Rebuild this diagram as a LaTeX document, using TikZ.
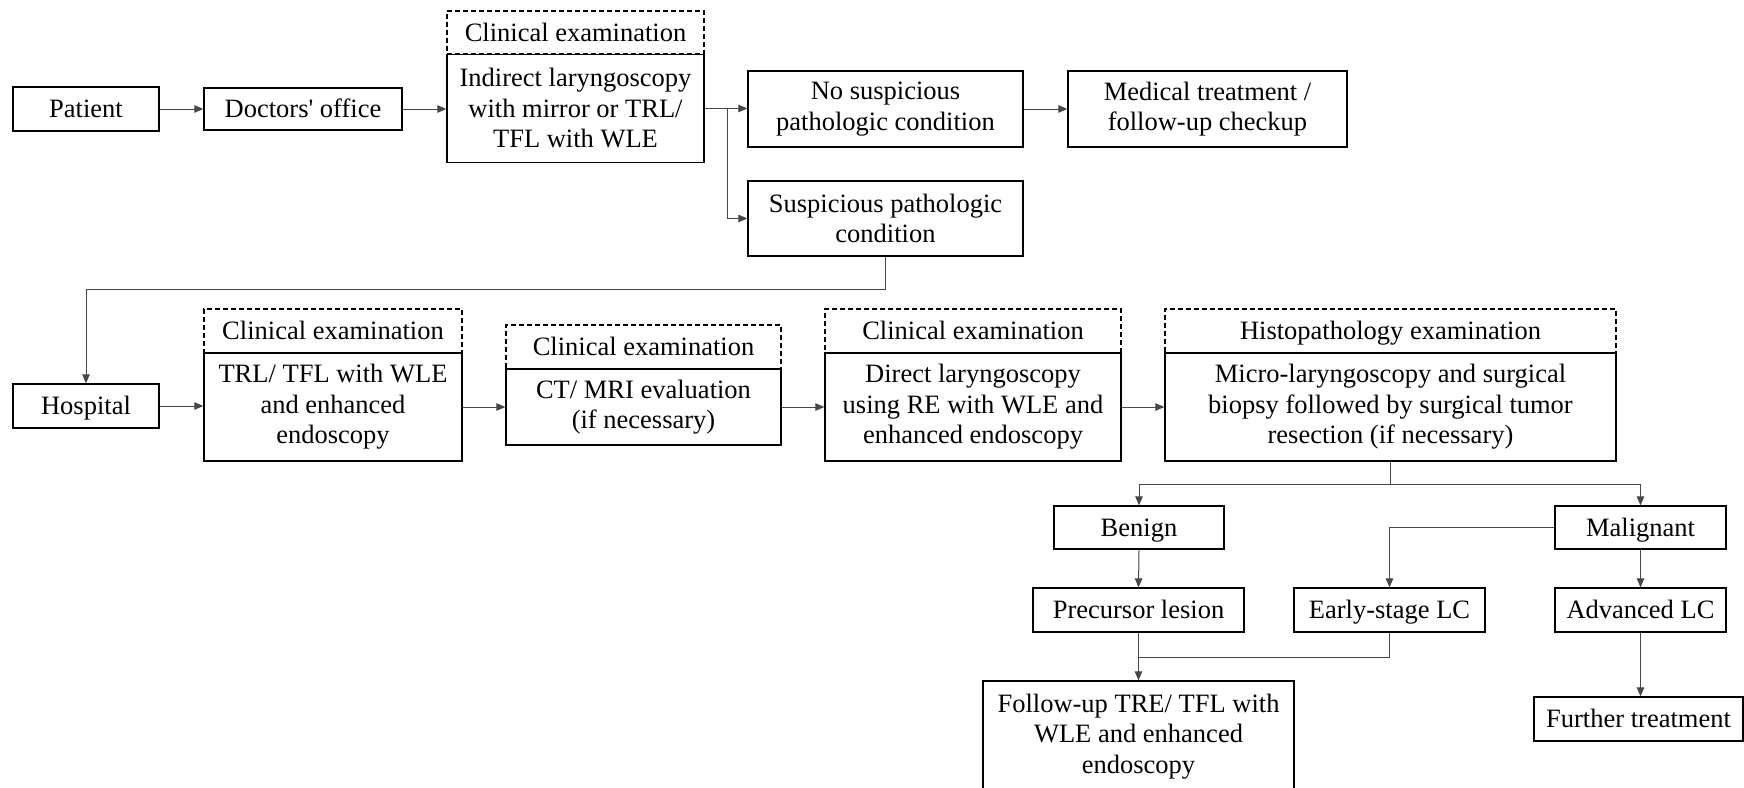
\documentclass[tikz,border=0pt]{standalone}
\usepackage{fontspec}
\newfontfamily\boxfont{Liberation Serif}
\usetikzlibrary{arrows.meta}
\tikzset{
  box/.style={draw=black, line width=1.3pt, rectangle, inner sep=0pt, align=center,
    font=\boxfont\fontsize{26.5pt}{30.5pt}\selectfont},
  one/.style={text height=19pt, text depth=1.5pt},
  dbox/.style={box, one, dash pattern=on 5pt off 3pt},
  conn/.style={draw=black!72, line width=1pt},
  arr/.style={conn, -{Triangle[length=9pt,width=7.5pt]}}
}
\begin{document}
\begin{tikzpicture}[x=1pt,y=-1pt]
\clip (0,0) rectangle (1744,787);
\fill[white] (0,0) rectangle (1744,787);
% row 1
\node[box, one, minimum width=146pt, minimum height=44pt] (patient) at (86,109) {Patient};
\node[box, one, minimum width=198pt, minimum height=42pt] (doctors) at (303,109) {Doctors' office};
\node[dbox, minimum width=257pt, minimum height=43pt] (clin1) at (575.5,32.5) {Clinical examination};
\node[box, minimum width=257pt, minimum height=108pt] (indirect) at (575.5,108.5) {Indirect laryngoscopy\\with mirror or TRL/\\TFL with WLE};
\node[box, minimum width=275pt, minimum height=76pt] (nosusp) at (885.5,109) {No suspicious\\pathologic condition};
\node[box, minimum width=279pt, minimum height=76pt] (medical) at (1207.5,109) {Medical treatment /\\follow-up checkup};
\node[box, minimum width=275pt, minimum height=75pt] (susp) at (885.5,218.5) {Suspicious pathologic\\condition};
% row 2
\node[box, one, minimum width=146pt, minimum height=44pt] (hospital) at (86,406) {Hospital};
\node[dbox, minimum width=258pt, minimum height=44pt] (clin2) at (333,331) {Clinical examination};
\node[box, minimum width=258pt, minimum height=108pt] (trl) at (333,407) {TRL/ TFL with WLE\\and enhanced\\endoscopy};
\node[dbox, minimum width=275pt, minimum height=44pt] (clin3) at (643.5,347) {Clinical examination};
\node[box, minimum width=275pt, minimum height=76pt] (ct) at (643.5,407) {CT/ MRI evaluation\\(if necessary)};
\node[dbox, minimum width=296pt, minimum height=44pt] (clin4) at (973,331) {Clinical examination};
\node[box, minimum width=296pt, minimum height=108pt] (direct) at (973,407) {Direct laryngoscopy\\using RE with WLE and\\enhanced endoscopy};
\node[dbox, minimum width=451pt, minimum height=44pt] (histo) at (1390.5,331) {Histopathology examination};
\node[box, minimum width=451pt, minimum height=108pt] (micro) at (1390.5,407) {Micro-laryngoscopy and surgical\\biopsy followed by surgical tumor\\resection (if necessary)};
% row 3
\node[box, one, minimum width=170pt, minimum height=43pt] (benign) at (1139,527.5) {Benign};
\node[box, one, minimum width=171pt, minimum height=43pt] (malignant) at (1640.5,527.5) {Malignant};
\node[box, one, minimum width=211pt, minimum height=44pt] (precursor) at (1138.5,610) {Precursor lesion};
\node[box, one, minimum width=191pt, minimum height=44pt] (early) at (1389.5,610) {Early-stage LC};
\node[box, one, minimum width=171pt, minimum height=44pt] (advanced) at (1640.5,610) {Advanced LC};
\node[box, minimum width=311pt, minimum height=111pt] (follow) at (1138.5,736.5) {Follow-up TRE/ TFL with\\WLE and enhanced\\endoscopy};
\node[box, one, minimum width=209pt, minimum height=44pt] (further) at (1638.5,719) {Further treatment};
% junction coordinates
\coordinate (br) at (727,108);
\coordinate (j1) at (0,289);
\coordinate (j2) at (0,484);
\coordinate (j3) at (0,657);
% connectors
\draw[arr] (patient.east) -- (doctors.west);
\draw[arr] (doctors.east) -- (doctors.east -| indirect.west);
\draw[arr] (indirect.east) -- (indirect.east -| nosusp.west);
\draw[arr] (br) |- (susp.west);
\draw[arr] (nosusp.east) -- (medical.west);
\draw[arr] (susp.south) -- (susp.south |- j1) -| (hospital.north);
\draw[arr] (hospital.east) -- (hospital.east -| trl.west);
\draw[arr] (trl.east) -- (trl.east -| ct.west);
\draw[arr] (ct.east) -- (ct.east -| direct.west);
\draw[arr] (direct.east) -- (direct.east -| micro.west);
\draw[conn] (micro.south) -- (micro.south |- j2);
\draw[arr] (micro.south |- j2) -| (benign.north);
\draw[arr] (micro.south |- j2) -| (malignant.north);
\draw[arr] (malignant.west) -| (early.north);
\draw[arr] (benign.south) -- (precursor.north);
\draw[arr] (malignant.south) -- (advanced.north);
\draw[arr] (precursor.south) -- (follow.north);
\draw[conn] (early.south) |- (precursor.south |- j3);
\draw[arr] (advanced.south) -- (advanced.south |- further.north);
\end{tikzpicture}
\end{document}
